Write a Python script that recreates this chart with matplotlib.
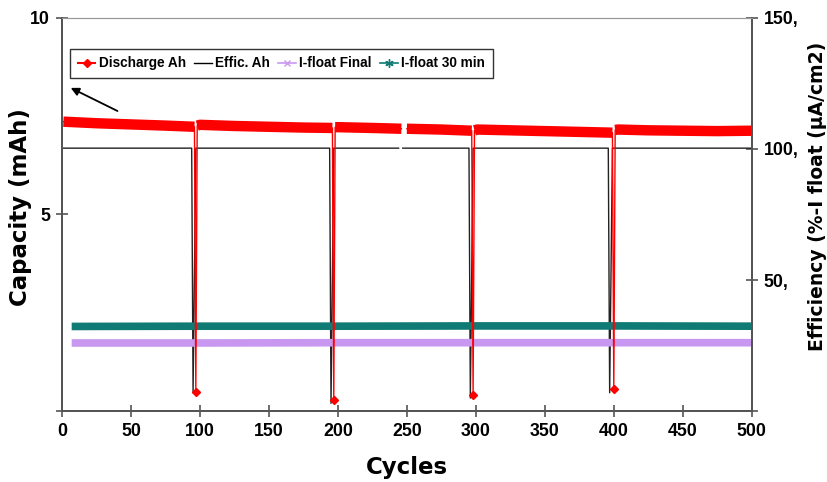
import numpy as np
import matplotlib
matplotlib.use("Agg")
import matplotlib.pyplot as plt
from matplotlib.lines import Line2D

plt.rcParams['font.family'] = ['Liberation Sans', 'DejaVu Sans']
plt.rcParams['font.weight'] = 'bold'

#------------------------------------
# Data
nan = np.nan
discharge_cycles = [1, 25, 50, 75, 96, 97, 98, 100, 125, 150, 175, 196, 197, 198, 200,
                    225, 246, 248, 250, 275, 297, 298, 299, 301, 325, 350, 375, 399,
                    400, 401, 403, 425, 450, 475, 500]
discharge_ah = [7.36, 7.32, 7.29, 7.26, 7.23, 0.48, 7.26, 7.28, 7.25, 7.23, 7.21, 7.20, 0.28,
                7.22, 7.22, 7.20, 7.18, nan, 7.18, 7.16, 7.13, 0.40, 7.14, 7.16, 7.14,
                7.12, 7.10, 7.08, 0.56, 7.15, 7.16, 7.14, 7.13, 7.12, 7.13]
dip_cycles = [97, 197, 298, 400]

effic_cycles = [1, 94, 95, 97, 194, 195, 197, 244, 245, 247, 295, 296, 298, 396, 397, 399, 500]
effic_ah = [100.3, 100.3, 7.0, 100.3, 100.3, 3.0, 100.3, 100.3, nan, 100.3, 100.3, 5.0,
            100.3, 100.3, 7.0, 100.3, 100.3]

ifloat_cycles = [7, 100, 200, 300, 400, 500]
ifloat_final = [26.0, 26.0, 26.1, 26.1, 26.1, 26.1]
ifloat_30min = [32.3, 32.4, 32.4, 32.5, 32.5, 32.4]

#------------------------------------
# Figure
fig = plt.figure(figsize=(8.27, 4.82), dpi=100)
ax = fig.add_axes([0.075, 0.147, 0.834, 0.816])
ax2 = ax.twinx()
ax.set_zorder(ax2.get_zorder() + 1)
ax.patch.set_visible(False)

red = '#ff0000'
teal = '#107a74'
lilac = '#c898f0'

# Efficiency and I-float on the right axis
ax2.plot(effic_cycles, effic_ah, color='#222222', lw=1.0)
ax2.plot(ifloat_cycles, ifloat_final, color=lilac, lw=5.5, solid_capstyle='butt')
ax2.plot(ifloat_cycles, ifloat_30min, color=teal, lw=5.5, solid_capstyle='butt')

# Discharge capacity on the left axis
cyc = np.array(discharge_cycles, dtype=float)
dis = np.array(discharge_ah, dtype=float)
ax.plot(cyc, dis, color=red, lw=1.0)
band = dis.copy()
band[np.isin(cyc, dip_cycles)] = nan
ax.plot(cyc, band, color=red, lw=7.5, solid_capstyle='butt')
dips = np.isin(cyc, dip_cycles)
ax.plot(cyc[dips], dis[dips], ls='none', marker='D', ms=4, color=red)

# Axes styling
ax.set_xlim(0, 500)
ax.set_ylim(0, 10)
ax2.set_ylim(0, 150)
ax.set_xticks(range(0, 501, 50))
ax.set_yticks([0, 5, 10])
ax.set_yticklabels(['', '5', '10'])
ax2.set_yticks([0, 50, 100, 150])
ax2.set_yticklabels(['', '50,', '100,', '150,'])

for a in (ax, ax2):
    for s in ('left', 'right', 'bottom'):
        a.spines[s].set_color('#555555')
        a.spines[s].set_linewidth(1.4)
    a.spines['top'].set_color('#999999')
    a.spines['top'].set_linewidth(0.8)
    a.tick_params(direction='inout', length=9, width=1.2, color='#555555',
                  labelsize=12.8, pad=4)

label_font = dict(family='DejaVu Sans', fontweight='bold')
ax.set_xlabel('Cycles', fontsize=16.5, **label_font)
ax.xaxis.set_label_coords(0.5, -0.115)
ax.set_ylabel('Capacity (mAh)', fontsize=16.5, **label_font)
ax.yaxis.set_label_coords(-0.044, 0.52)
ax2.set_ylabel('Efficiency (%-I float (µA/cm2)', fontsize=13.5, **label_font)
ax2.yaxis.set_label_coords(1.081, 0.547)

# Legend
handles = [
    Line2D([], [], color=red, marker='D', ms=4, lw=1.5),
    Line2D([], [], color='black', lw=1.0),
    Line2D([], [], color=lilac, marker='x', ms=5, lw=1.2),
    Line2D([], [], color=teal, marker=(6, 2, 0), ms=6, lw=1.2),
]
labels = ['Discharge Ah', 'Effic. Ah', 'I-float Final', 'I-float 30 min']
leg = ax.legend(handles, labels, loc='upper left', bbox_to_anchor=(0.012, 0.921),
                borderaxespad=0, ncol=4, frameon=True, fancybox=False, handlelength=1.3,
                handletextpad=0.25, columnspacing=0.6, borderpad=0.55,
                prop={'weight': 'bold', 'size': 9.8})
leg.get_frame().set_edgecolor('black')
leg.get_frame().set_linewidth(1.0)

# Arrow pointing up-left
ax.annotate('', xy=(4.5, 8.25), xytext=(42, 7.6),
            arrowprops=dict(arrowstyle='-|>', color='black', lw=1.3, mutation_scale=12))

fig.savefig('out.png', dpi=100)
